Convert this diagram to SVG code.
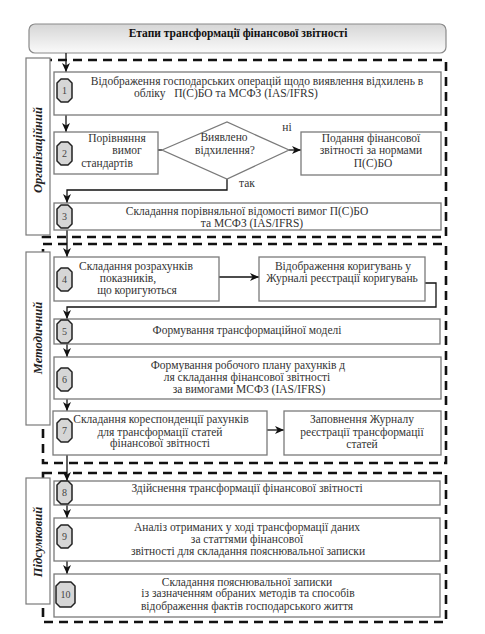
<svg xmlns="http://www.w3.org/2000/svg" width="485" height="634" viewBox="0 0 485 634">
<style>
.sec{fill:none;stroke:#111;stroke-width:2.6;stroke-dasharray:9,6}
.box{fill:#fff;stroke:#7a7a7a;stroke-width:1.3}
.lbl{fill:#fff;stroke:#7a7a7a;stroke-width:1.2}
.t{font-family:"Liberation Serif","DejaVu Serif",serif;font-size:11.5px;fill:#333;text-anchor:middle}
.lt{font-family:"Liberation Serif","DejaVu Serif",serif;font-size:12.5px;font-weight:bold;font-style:italic;fill:#222;text-anchor:middle}
.num{font-family:"Liberation Serif","DejaVu Serif",serif;font-size:10px;fill:#444;text-anchor:middle}
.badge{fill:#d6d6d6;stroke:#222;stroke-width:1.5;stroke-linejoin:round}
.c{fill:none;stroke:#111;stroke-width:1.3}
</style>
<defs>
<linearGradient id="hg" x1="0" y1="0" x2="0" y2="1">
<stop offset="0" stop-color="#d6d6d6"/>
<stop offset="1" stop-color="#fafafa"/>
</linearGradient>
<marker id="ar" markerWidth="9" markerHeight="8" refX="9" refY="4" orient="auto" markerUnits="userSpaceOnUse">
<path d="M0,0 L9,4 L0,8 L2.5,4 Z" fill="#111"/>
</marker>
<path id="bd" d="M4,0 L11,0 L15,4 L15,19 L11,23 L4,23 L0,19 L0,4 Z"/>
</defs>

<g id="header">
<rect x="29" y="24" width="417" height="29" rx="6" fill="url(#hg)" stroke="#8a8a8a" stroke-width="1.2"/>
<text x="238" y="37" class="t" style="font-weight:bold;fill:#111">Етапи трансформації фінансової звітності</text>
</g>

<g id="sections">
<rect class="sec" x="43" y="60" width="403" height="177"/>
<rect class="sec" x="43" y="244" width="403" height="219"/>
<rect class="sec" x="43" y="473" width="403" height="149"/>
</g>

<g id="label-org">
<rect class="lbl" x="26" y="58" width="24" height="177"/>
<text class="lt" transform="translate(42,150) rotate(-90)">Організаційний</text>
</g>
<g id="label-met">
<rect class="lbl" x="26" y="252" width="24" height="173"/>
<text class="lt" transform="translate(42,338) rotate(-90)">Методичний</text>
</g>
<g id="label-pid">
<rect class="lbl" x="26" y="478" width="24" height="126"/>
<text class="lt" transform="translate(42,542) rotate(-90)">Підсумковий</text>
</g>

<g id="connectors">
<line class="c" x1="66" y1="53" x2="66" y2="72" marker-end="url(#ar)"/>
<line class="c" x1="66" y1="115" x2="66" y2="132" marker-end="url(#ar)"/>
<line class="c" x1="158" y1="150" x2="162" y2="150"/>
<line class="c" x1="289" y1="150" x2="301" y2="150" marker-end="url(#ar)"/>
<polyline class="c" points="227,179 227,190 67,190 67,203" marker-end="url(#ar)"/>
<line class="c" x1="67" y1="230" x2="67" y2="257" marker-end="url(#ar)"/>
<line class="c" x1="219" y1="277" x2="259" y2="277" marker-end="url(#ar)"/>
<polyline class="c" points="425,283 436,283 436,307 67,307 67,319" marker-end="url(#ar)"/>
<line class="c" x1="67" y1="344" x2="67" y2="357" marker-end="url(#ar)"/>
<line class="c" x1="67" y1="399" x2="67" y2="411" marker-end="url(#ar)"/>
<line class="c" x1="267" y1="430" x2="284" y2="430" marker-end="url(#ar)"/>
<line class="c" x1="67" y1="455" x2="67" y2="481" marker-end="url(#ar)"/>
<line class="c" x1="67" y1="505" x2="67" y2="518" marker-end="url(#ar)"/>
<line class="c" x1="67" y1="561" x2="67" y2="574" marker-end="url(#ar)"/>
</g>

<g id="n1">
<rect class="box" x="54" y="72" width="387" height="43"/>
<use href="#bd" class="badge" transform="translate(57,79)"/>
<text class="num" x="64.5" y="94">1</text>
<text class="t" x="257" y="85">Відображення господарських операцій щодо виявлення відхилень в</text>
<text class="t" x="226" y="97" xml:space="preserve">обліку   П(С)БО та МСФЗ (IAS/IFRS)</text>
</g>

<g id="n2">
<rect class="box" x="54" y="132" width="104" height="42"/>
<use href="#bd" class="badge" transform="translate(57,142)"/>
<text class="num" x="64.5" y="157">2</text>
<text class="t" x="117" y="142">Порівняння</text>
<text class="t" x="127" y="154">вимог</text>
<text class="t" x="107" y="167">стандартів</text>
</g>

<g id="decision">
<polygon points="162,150 227,122 289,150 227,179" fill="#fff" stroke="#7a7a7a" stroke-width="1.3"/>
<text class="t" x="224" y="141">Виявлено</text>
<text class="t" x="225" y="154">відхилення?</text>
<text class="t" x="287" y="131">ні</text>
<text class="t" x="247" y="187">так</text>
</g>

<g id="n-podannia">
<rect class="box" x="301" y="132" width="140" height="43"/>
<text class="t" x="371" y="142">Подання фінансової</text>
<text class="t" x="371" y="154">звітності за нормами</text>
<text class="t" x="373" y="167">П(С)БО</text>
</g>

<g id="n3">
<rect class="box" x="54" y="203" width="387" height="27"/>
<use href="#bd" class="badge" transform="translate(57,205)"/>
<text class="num" x="64.5" y="220">3</text>
<text class="t" x="247" y="215">Складання порівняльної відомості вимог П(С)БО</text>
<text class="t" x="252" y="227">та МСФЗ (IAS/IFRS)</text>
</g>

<g id="n4">
<rect class="box" x="54" y="257" width="165" height="44"/>
<use href="#bd" class="badge" transform="translate(57,268)"/>
<text class="num" x="64.5" y="283">4</text>
<text class="t" x="136" y="270">Складання розрахунків</text>
<text class="t" x="128" y="282">показників,</text>
<text class="t" x="137" y="294">що коригуються</text>
</g>

<g id="n-journal">
<rect class="box" x="259" y="257" width="166" height="44"/>
<text class="t" x="343" y="270">Відображення коригувань у</text>
<text class="t" x="342" y="282">Журналі реєстрації коригувань</text>
</g>

<g id="n5">
<rect class="box" x="54" y="319" width="386" height="25"/>
<use href="#bd" class="badge" transform="translate(57,320)"/>
<text class="num" x="64.5" y="335">5</text>
<text class="t" x="247" y="334">Формування трансформаційної моделі</text>
</g>

<g id="n6">
<rect class="box" x="54" y="357" width="387" height="42"/>
<use href="#bd" class="badge" transform="translate(57,368)"/>
<text class="num" x="64.5" y="383">6</text>
<text class="t" x="248" y="369">Формування робочого плану рахунків д</text>
<text class="t" x="247" y="381">ля складання фінансової звітності</text>
<text class="t" x="249" y="393">за вимогами МСФЗ (IAS/IFRS)</text>
</g>

<g id="n7">
<rect class="box" x="53" y="411" width="214" height="44"/>
<use href="#bd" class="badge" transform="translate(57,419)"/>
<text class="num" x="64.5" y="434">7</text>
<text class="t" x="161" y="423">Складання кореспонденції рахунків</text>
<text class="t" x="160" y="436">для трансформації статей</text>
<text class="t" x="160" y="447">фінансової звітності</text>
</g>

<g id="n-zapovnennia">
<rect class="box" x="284" y="411" width="157" height="44"/>
<text class="t" x="362" y="423">Заповнення Журналу</text>
<text class="t" x="362" y="436">реєстрації трансформації</text>
<text class="t" x="362" y="448">статей</text>
</g>

<g id="n8">
<rect class="box" x="54" y="481" width="386" height="24"/>
<use href="#bd" class="badge" transform="translate(57,481)"/>
<text class="num" x="64.5" y="496">8</text>
<text class="t" x="247" y="492">Здійснення трансформації фінансової звітності</text>
</g>

<g id="n9">
<rect class="box" x="54" y="518" width="386" height="43"/>
<use href="#bd" class="badge" transform="translate(57,525)"/>
<text class="num" x="64.5" y="540">9</text>
<text class="t" x="247" y="531">Аналіз отриманих у ході трансформації даних</text>
<text class="t" x="247" y="543">за статтями фінансової</text>
<text class="t" x="248" y="555">звітності для складання пояснювальної записки</text>
</g>

<g id="n10">
<rect class="box" x="54" y="574" width="386" height="43"/>
<path class="badge" d="M60,582 L71,582 L75,586 L75,603 L71,607 L60,607 L56,603 L56,586 Z"/>
<text class="num" x="65.5" y="598">10</text>
<text class="t" x="247" y="586">Складання пояснювальної записки</text>
<text class="t" x="248" y="597">із зазначенням обраних методів та способів</text>
<text class="t" x="247" y="610">відображення фактів господарського життя</text>
</g>
</svg>
